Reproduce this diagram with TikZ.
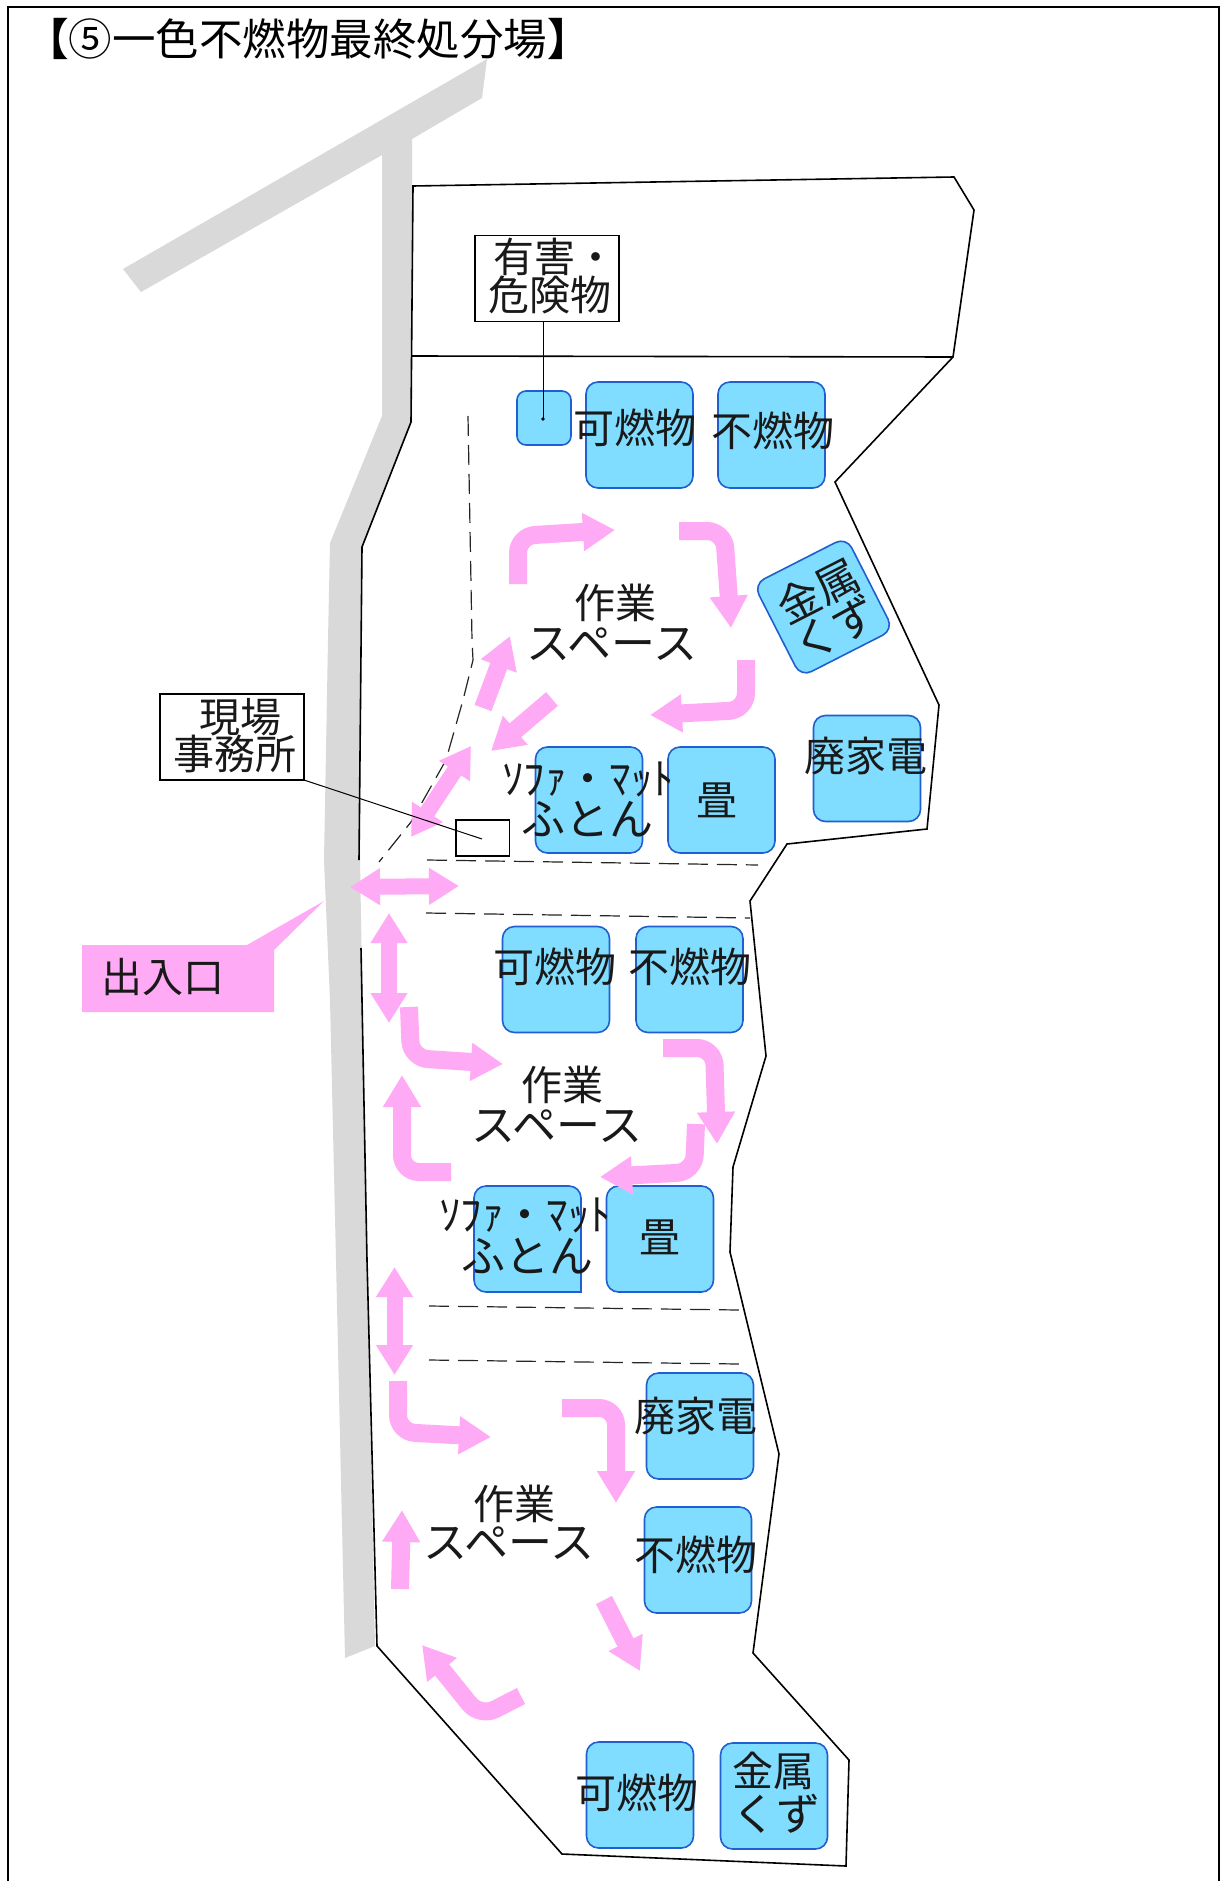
\documentclass[tikz,border=0pt]{standalone}
\usepackage{fontspec}
\setmainfont{Noto Sans CJK JP}
\usetikzlibrary{arrows.meta}
\definecolor{roadgray}{HTML}{D9D9D9}
\definecolor{binfill}{HTML}{80DDFF}
\definecolor{binline}{HTML}{1F5FD0}
\definecolor{flowpink}{HTML}{FFAAF5}
\tikzset{
  binbox/.style={draw=binline,fill=binfill,line width=1.6pt,rounded corners=12pt,minimum width=107pt,minimum height=106pt,inner sep=0pt},
  lbl/.style={font=\fontsize{41pt}{41pt}\selectfont,inner sep=0pt,text=black!90},
  lblk/.style={font=\fontsize{44pt}{44pt}\selectfont,inner sep=0pt,text=black!90},
  lblh/.style={font=\fontsize{43pt}{43pt}\selectfont,inner sep=0pt,text=black!90},
  tagbox/.style={draw=black,fill=white,line width=1.3pt,inner sep=0pt},
  siteline/.style={draw=black,line width=1.6pt,line join=miter},
  limit/.style={draw=black!85,line width=1.2pt,dash pattern=on 20pt off 9pt},
  leader/.style={draw=black,line width=1pt},
  flow/.style={draw=flowpink,line width=18pt,rounded corners=17pt,-{Triangle[length=32pt,width=36pt]}},
  flowtwo/.style={draw=flowpink,line width=16pt,{Triangle[length=30pt,width=35pt]}-{Triangle[length=30pt,width=35pt]}},
}
\begin{document}
\begin{tikzpicture}[x=1pt,y=-1pt]
\useasboundingbox (0,0) rectangle (1222,1881);
\fill[white] (0,0) rectangle (1222,1881);
\draw[black,line width=1.8pt] (8,1881) -- (8,7) -- (1219,7) -- (1219,1881);
\node[inner sep=0pt,font=\fontsize{43.5pt}{43.5pt}\selectfont] (title) at (308,39) {\textbf{【}⑤一色不燃物最終処分場\textbf{】}};
% road
\fill[roadgray] (487,59) -- (482,98) -- (412,139) -- (412,422) -- (362,547) -- (360,860) -- (367,1260) -- (375,1646) -- (345,1658) -- (336,1260) -- (330,1000) -- (324,860) -- (328,640) -- (330,543) -- (382,416) -- (382,155) -- (141,292) -- (123,269) -- cycle;
% site outline
\draw[siteline] (359,860) -- (362,547) -- (411,422) -- (413,186) -- (954,177) -- (974,210) -- (953,357) -- (835,482) -- (939,705) -- (927,829) -- (787,844) -- (750,901) -- (766,1056) -- (733,1167) -- (730,1252) -- (779,1454) -- (753,1653) -- (849,1760) -- (846,1866) -- (562,1854) -- (377,1646) -- (367,1260) -- (361,948);
\draw[siteline] (412,356) -- (953,357);
% dashed limits
\draw[limit] (468,416) -- (472,640) -- (473,660) -- (463,700) -- (446,760) -- (411,822) -- (379,862);
\draw[limit] (427,860) -- (758,865);
\draw[limit] (426,913) -- (750,918);
\draw[limit] (429,1306) -- (739,1310);
\draw[limit] (429,1360) -- (739,1364);
% bins
\node[binbox,minimum width=54pt,minimum height=54pt,rounded corners=9pt] (hazbin) at (544,418) {};
\node[binbox] (burn1) at (639.5,435) {};
\node[binbox] (non1) at (771.5,435) {};
\node[binbox,minimum width=104pt,minimum height=104pt,rotate=27] (metal1) at (823.5,607) {};
\node[binbox] (appl1) at (867,768.5) {};
\node[binbox] (sofa1) at (589,800) {};
\node[binbox] (mat1) at (721.5,800) {};
\node[binbox] (burn2) at (556,979.5) {};
\node[binbox] (non2) at (689.5,979.5) {};
\draw[binline,fill=binfill,line width=1.6pt,rounded corners=12pt] (474,1186) -- (581,1186) -- (581,1240) [sharp corners] -- (581,1292) [rounded corners=12pt] -- (474,1292) -- cycle;
\node[binbox] (mat2) at (660,1239) {};
\node[binbox] (appl2) at (700,1426) {};
\node[binbox] (non3) at (698,1560) {};
\node[binbox] (burn3) at (640,1795) {};
\node[binbox] (metal2) at (774,1796) {};
% flow arrows
\draw[flow] (518,584) -- (518,536) -- (615,530);
\draw[flow] (679,531) -- (724,531) -- (731,628);
\draw[flow] (746,660) -- (746,710) -- (650,715);
\draw[flow,rounded corners=0pt] (483,708) -- (510,636);
\draw[flow,rounded corners=0pt] (552,699) -- (491,751);
\draw[flowtwo] (471,746) -- (411,837);
\draw[flowtwo] (350,887) -- (459,886);
\draw[flowtwo] (389,913) -- (389,1023);
\draw[flow] (409,1007) -- (411,1058) -- (503,1064);
\draw[flow] (663,1048) -- (714,1048) -- (717,1144);
\draw[flow] (696,1124) -- (694,1172) -- (600,1177);
\draw[flow] (451,1172) -- (402,1172) -- (402,1075);
\draw[flowtwo] (394.5,1267) -- (394.5,1375);
\draw[flow] (398,1381) -- (398,1432) -- (491,1437);
\draw[flow] (562,1408) -- (616,1408) -- (616,1503);
\draw[flow,rounded corners=0pt] (400,1589) -- (402,1510);
\draw[flow,rounded corners=0pt] (604,1600) -- (640,1671);
\draw[flow] (521,1696) -- (480,1717) -- (422,1645);
% entrance callout
\fill[flowpink] (82,945) -- (247,945) -- (324,901) -- (274,950) -- (274,1012) -- (82,1012) -- cycle;
\node[lbl] (entrance) at (163,977) {出入口};
% tags
\node[tagbox,minimum width=144pt,minimum height=86pt] (hazbox) at (547,278.5) {};
\node[lbl] (haz1) at (555,257) {有害・};
\node[lbl] (haz2) at (550,295) {危険物};
\coordinate (hazdot) at (543,419);
\draw[leader] (543,322) -- (hazdot);
\fill (hazdot) circle (1.8pt);
\node[tagbox,minimum width=144pt,minimum height=86pt] (officebox) at (232,737) {};
\node[lbl] (off1) at (240,717) {現場};
\node[lbl] (off2) at (235,754) {事務所};
\node[tagbox,minimum width=53.5pt,minimum height=36pt] (office) at (482.75,838) {};
\coordinate (officedot) at (482,839);
\draw[leader] (304,780) -- (officedot);
% labels
\node[lbl] (t1) at (635,428) {可燃物};
\node[lbl] (t2) at (773,431) {不燃物};
\node[lblh,rotate=27] (t3) at (818,591) {金属};
\node[lblk,rotate=27] (t4) at (835,629) {くず};
\node[lbl] (t5) at (615,603) {作業};
\node[lblk] (t6) at (612,644) {スペース};
\node[lbl] (t7) at (866,756) {廃家電};
\node[lblh] (t8) at (588,779) {ｿﾌｧ・ﾏｯﾄ};
\node[lblk] (t9) at (587,819) {ふとん};
\node[lbl] (t10) at (717,800) {畳};
\node[lbl] (t11) at (555,966.5) {可燃物};
\node[lbl] (t12) at (690,967) {不燃物};
\node[lbl] (t13) at (562,1085) {作業};
\node[lblk] (t14) at (557,1126) {スペース};
\node[lblh] (t15) at (525,1215.5) {ｿﾌｧ・ﾏｯﾄ};
\node[lblk] (t16) at (527,1256) {ふとん};
\node[lbl] (t17) at (660,1237) {畳};
\node[lbl] (t18) at (696,1416) {廃家電};
\node[lbl] (t19) at (696,1555) {不燃物};
\node[lbl] (t20) at (514,1503.5) {作業};
\node[lblk] (t21) at (509,1543) {スペース};
\node[lbl] (t22) at (637,1793) {可燃物};
\node[lbl] (t23) at (773,1771) {金属};
\node[lblk] (t24) at (776,1814) {くず};
\end{tikzpicture}
\end{document}
